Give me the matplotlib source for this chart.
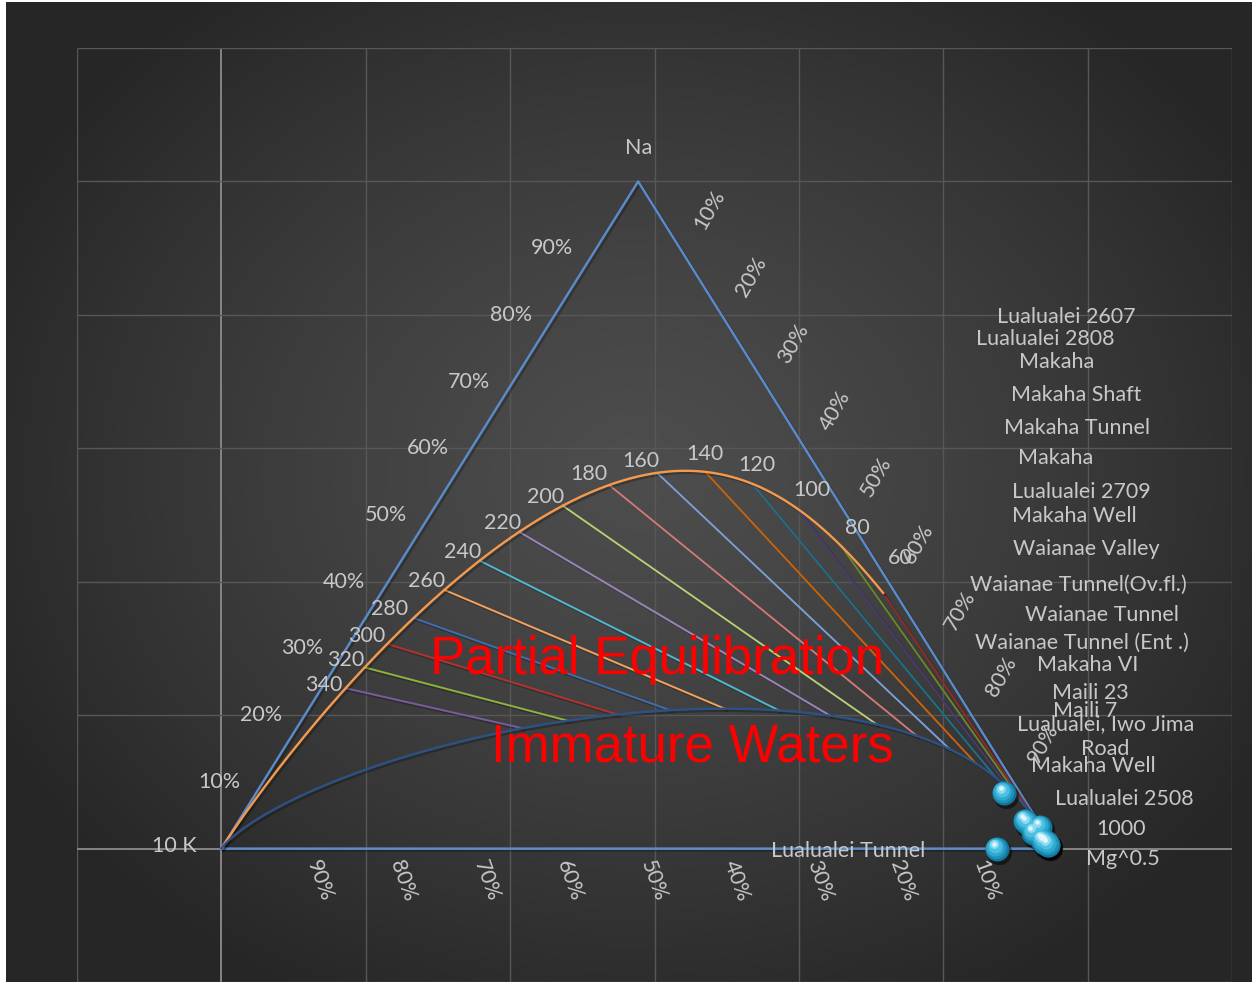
import numpy as np
import matplotlib
matplotlib.use("Agg")
import matplotlib.pyplot as plt
import matplotlib.patheffects as pe
from matplotlib.transforms import offset_copy

# ---------------------------------------------------------------- data
# Giggenbach geothermometer constants (concentrations in mg/kg)
NAK_A, NAK_B = 1390.0, 1.75      # t = A / (B + log(Na/K)) - 273.15
KMG_A, KMG_B = 14.0, 4410.0      # log(K^2/Mg) = A - B / T
MI_IMMATURE = 1.97               # maturity index bounding immature waters

temperatures = [340, 320, 300, 280, 260, 240, 220, 200, 180, 160, 140, 120, 100, 80, 60]
temp_colors = ["#7A5C9E", "#8DB33E", "#B3322F", "#3F6DB0", "#F4A15C", "#4FB8CF",
               "#9A84BA", "#B5CF77", "#D07A78", "#7DA0D4", "#C8640E", "#1F7088",
               "#4A3A6E", "#6A8530", "#8E2B2B"]
# label offsets (pixels) for the temperature annotations
temp_label_offsets = [(-22, 3), (-19, 7), (-20, 8), (-24, 9), (-18, 9), (-17, 9),
                      (-17, 9), (-17, 9), (-20, 11), (-16, 12), (0, 18), (4, 19),
                      (14, 19), (16, 18), (17, 35)]

percent_ticks = [10, 20, 30, 40, 50, 60, 70, 80, 90]

# samples: relative proportions (%) of Na/1000, K/100 and Mg^0.5
sample_names = ["Lualualei 2607", "Lualualei 2808", "Makaha", "Makaha Shaft",
                "Makaha Tunnel", "Makaha", "Lualualei 2709", "Makaha Well",
                "Waianae Valley", "Waianae Tunnel(Ov.fl.)", "Waianae Tunnel",
                "Waianae Tunnel (Ent .)", "Makaha VI", "Maili 23", "Maili 7",
                "Lualualei, Iwo Jima\nRoad", "Makaha Well", "Lualualei 2508",
                "Lualualei Tunnel"]
sample_na = [1.0, 0.9, 0.8, 2.4, 1.1, 0.7, 1.2, 0.8, 8.3, 4.2, 3.2, 3.8, 0.6, 1.0, 0.9, 1.1, 0.5, 1.3, 0.0]
sample_k = [0.8, 0.9, 0.6, 1.4, 0.7, 0.6, 0.8, 0.5, 2.0, 1.5, 0.2, 1.4, 0.5, 0.7, 0.6, 0.9, 0.6, 0.9, 7.0]
sample_mg = [98.2, 98.2, 98.6, 96.2, 98.2, 98.7, 98.0, 98.7, 89.7, 94.3, 96.6, 94.8, 98.9, 98.3, 98.5, 98.0, 98.9, 97.8, 93.0]
# label anchor positions (plot units)
sample_label_pos = [(58.52, 39.86), (57.06, 38.21), (57.83, 36.49), (59.21, 34.01),
                    (59.28, 31.53), (57.76, 29.28), (59.56, 26.73), (59.07, 24.92),
                    (59.90, 22.45), (59.35, 19.74), (61.01, 17.49), (59.63, 15.39),
                    (59.97, 13.74), (60.18, 11.64), (59.83, 10.29), (61.22, 8.37),
                    (60.39, 6.16), (62.53, 3.68), (43.42, -0.15)]

SQ3 = np.sqrt(3.0)


def to_xy(na, k, mg):
    """Ternary -> cartesian; K at origin, Mg^0.5 at right, Na at apex."""
    na, k, mg = (np.asarray(v, float) for v in (na, k, mg))
    s = na + k + mg
    pna, pmg = 100 * na / s, 100 * mg / s
    return (pmg + pna / 2) / SQ3, pna / 2


def full_equilibrium(t_c):
    T = np.asarray(t_c, float) + 273.15
    r = 10 ** (NAK_A / T - NAK_B)              # Na/K
    kmg = 10 ** (KMG_A - KMG_B / T)            # K^2/Mg
    k = 1.0
    return to_xy(r * k / 1000, k / 100, k / np.sqrt(kmg))


def immature(log_r):
    log_r = np.asarray(log_r, float)
    r = 10 ** log_r
    lkm = (MI_IMMATURE - log_r) / 0.315
    k = 1.0
    return to_xy(r * k / 1000, k / 100 * np.ones_like(r), k / np.sqrt(10 ** lkm))


# ---------------------------------------------------------------- figure
W, H = 1252, 982
fig = plt.figure(figsize=(W / 100, H / 100), dpi=100)

# radial dark background
yy, xx = np.mgrid[0:H, 0:W]
rr = np.sqrt(((xx - 640) / 720.0) ** 2 + ((yy - 470) / 600.0) ** 2)
rr = np.clip(rr, 0, 1)
shade = (0x4D - (0x4D - 0x26) * rr ** 1.3) / 255.0
img = np.dstack([shade, shade, shade])
img[:, :6] = 1.0
img[:2, :] = 1.0
bg = fig.add_axes([0, 0, 1, 1])
bg.imshow(img, aspect="auto", interpolation="bilinear")
bg.set_axis_off()

ax = fig.add_axes([77 / W, 0, 1155 / W, 934 / H])
ax.set_xlim(-10, 70)
ax.set_ylim(-10, 60)
ax.set_axis_off()
ax.patch.set_alpha(0)

# gridlines
for gx in range(-10, 71, 10):
    ax.plot([gx, gx], [-10, 60], color="#8C8C8C" if gx == 0 else "#575757",
            lw=1.3 if gx == 0 else 1.0, zorder=1, solid_capstyle="butt")
for gy in range(-10, 61, 10):
    ax.plot([-10, 70], [gy, gy], color="#8C8C8C" if gy == 0 else "#575757",
            lw=1.3 if gy == 0 else 1.0, zorder=1, solid_capstyle="butt")

shadow = [pe.SimpleLineShadow(offset=(1.5, -1.5), shadow_color="k", alpha=0.25), pe.Normal()]

# triangle
tri_x, tri_y = to_xy([0, 1, 0, 0], [1, 0, 0, 1], [0, 0, 1, 0])
ax.plot(tri_x, tri_y, color="#5A8BCB", lw=1.7, zorder=3, path_effects=shadow)

# full equilibrium curve
t_curve = np.concatenate([np.geomspace(60, 400, 200), np.geomspace(400, 1e6, 200)[1:]])
fx, fy = full_equilibrium(t_curve)
fx, fy = np.append(fx, 0.0), np.append(fy, 0.0)
ax.plot(fx, fy, color="#F59A4C", lw=1.7, zorder=4, path_effects=shadow)

# immature waters curve
ix, iy = immature(np.linspace(-4, 5, 600))
ix = np.concatenate([[0.0], ix, [100 / SQ3]])
iy = np.concatenate([[0.0], iy, [0.0]])
ax.plot(ix, iy, color="#2C5283", lw=1.7, zorder=4, path_effects=shadow)

# isotherms between full equilibrium and immature waters
text_kw = dict(color="#C8C8C8", fontfamily="Lato", fontsize=15.5)
for t, c, off in zip(temperatures, temp_colors, temp_label_offsets):
    x0, y0 = full_equilibrium(t)
    lr = NAK_A / (t + 273.15) - NAK_B
    x1, y1 = immature(lr)
    ax.plot([x0, x1], [y0, y1], color=c, lw=1.4, zorder=3, path_effects=shadow)
    ax.annotate(str(t), (x0, y0), xytext=off, textcoords="offset pixels",
                ha="center", va="center", zorder=6, **text_kw)

# percentage scales along the three sides
for p in percent_ticks:
    # left side (Na)
    x, y = to_xy(p, 100 - p, 0)
    ax.annotate(f"{p}%", (x, y), xytext=(-44, 0), textcoords="offset pixels",
                ha="center", va="center", **text_kw)
    # right side (Mg)
    x, y = to_xy(100 - p, 0, p)
    ax.annotate(f"{p}%", (x, y), xytext=(30, 38), textcoords="offset pixels",
                ha="center", va="center", rotation=60, rotation_mode="anchor", **text_kw)
    # base (K)
    x, y = to_xy(0, 100 - p, p)
    ax.annotate(f"{100 - p}%", (x, y), xytext=(15, -32), textcoords="offset pixels",
                ha="center", va="center", rotation=-70, rotation_mode="anchor", **text_kw)

# vertex captions
ax.text(28.87, 52.5, "Na", ha="center", va="center", **text_kw)
ax.text(-3.25, 0.2, "10 K", ha="center", va="center", **text_kw)
ax.text(62.33, 1.43, "1000", ha="center", va="center", **text_kw)
ax.text(62.47, -0.75, "Mg^0.5", ha="center", va="center", **text_kw)

# field names
red_kw = dict(color="#FF0000", fontfamily="Liberation Sans", fontsize=38,
              ha="center", va="center", zorder=7)
ax.text(30.19, 14.1, "Partial Equilibration", **red_kw)
ax.text(32.62, 7.6, "Immature Waters", **red_kw)

# samples drawn as shaded spheres
sx, sy = to_xy(sample_na, sample_k, sample_mg)
shadow_tr = offset_copy(ax.transData, fig=fig, x=2, y=-3, units="dots")
ax.scatter(sx, sy, s=330, color="black", alpha=0.5, transform=shadow_tr, zorder=8, lw=0)
sphere_layers = [(300, "#137494", 0.0, 0.0), (240, "#1E8FB8", -0.5, 1.0),
                 (170, "#2FA8D0", -1.2, 2.0), (100, "#4DC0E2", -2.0, 3.0),
                 (40, "#8FDCF2", -2.6, 4.2), (10, "#E2F7FD", -3.0, 5.0)]
for size, col, dx, dy in sphere_layers:
    tr = offset_copy(ax.transData, fig=fig, x=dx, y=dy, units="dots")
    ax.scatter(sx, sy, s=size, color=col, transform=tr, zorder=9, lw=0)

for name, (lx, ly) in zip(sample_names, sample_label_pos):
    ax.text(lx, ly, name, ha="center", va="center", linespacing=1.3, zorder=11, **text_kw)

fig.savefig("out.png", dpi=100)
